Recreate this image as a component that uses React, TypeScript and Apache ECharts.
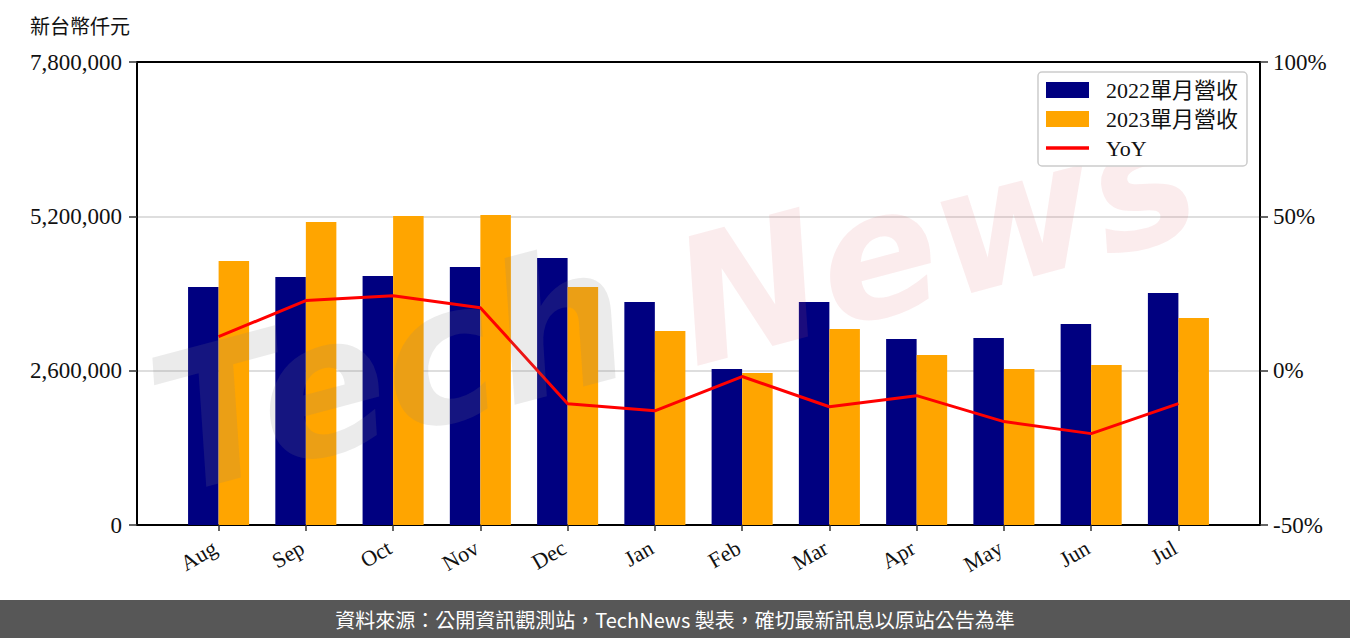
import React, { useEffect, useRef } from "react";
import * as echarts from "echarts";

const months = ["Aug", "Sep", "Oct", "Nov", "Dec", "Jan", "Feb", "Mar", "Apr", "May", "Jun", "Jul"];
const rev2022 = [4009000, 4178000, 4195000, 4346000, 4498000, 3757000, 2628000, 3757000, 3133000, 3150000, 3386000, 3908000];
const rev2023 = [4447000, 5104000, 5206000, 5222000, 4009000, 3268000, 2561000, 3302000, 2864000, 2628000, 2695000, 3487000];
const yoy = [11.0, 22.7, 24.3, 20.4, -10.7, -13.0, -1.9, -11.7, -8.1, -16.5, -20.4, -10.7];
const leftTicks = [0, 2600000, 5200000, 7800000];
const rightTicks = [-50, 0, 50, 100];
const seriesNames = ["2022單月營收", "2023單月營收", "YoY"];
const yTitle = "新台幣仟元";
const footer = "資料來源：公開資訊觀測站，TechNews 製表，確切最新訊息以原站公告為準";

const SERIF = "'Liberation Serif', 'Noto Sans CJK TC', serif";
const BAR_W = 0.35;

export default function App() {
  const ref = useRef<HTMLDivElement>(null);
  useEffect(() => {
    if (!ref.current) return;
    const chart = echarts.init(ref.current, undefined, { renderer: "svg" });
    const n = months.length;
    const span = (n - 1) + 2 * BAR_W;
    const xMin = -BAR_W - 0.05 * span;
    const xMax = n - 1 + BAR_W + 0.05 * span;
    const idx = months.map((_, i) => i);
    const fmt = (v: number) => v.toLocaleString("en-US");
    chart.setOption({
      animation: false,
      backgroundColor: "#fff",
      grid: {
        left: 137, right: 90, top: 62, bottom: 113,
        show: true, borderColor: "#000", borderWidth: 2, backgroundColor: "transparent",
      },
      legend: {
        orient: "vertical",
        right: 103,
        top: 72,
        backgroundColor: "#fff",
        borderColor: "#cccccc",
        borderWidth: 1.5,
        borderRadius: 4,
        padding: [7, 9, 7, 8],
        itemGap: 7,
        itemWidth: 43,
        itemHeight: 16,
        symbolKeepAspect: true,
        textStyle: { fontSize: 22, fontFamily: SERIF, color: "#111", padding: [0, 0, 0, 12], lineHeight: 22 },
        data: [
          { name: seriesNames[0], icon: "rect" },
          { name: seriesNames[1], icon: "rect" },
          { name: seriesNames[2], icon: "path://M0,0L43,0L43,3.5L0,3.5Z" },
        ],
        z: 20,
      },
      xAxis: [
        {
          type: "value",
          min: xMin,
          max: xMax,
          splitLine: { show: false },
          axisLine: { show: true, onZero: false, lineStyle: { color: "#000", width: 2 } },
          axisTick: { show: true, customValues: idx, length: 6, lineStyle: { color: "#333", width: 1.5 } },
          axisLabel: {
            customValues: idx,
            rotate: 30,
            fontSize: 22,
            fontFamily: SERIF,
            color: "#111",
            margin: 19,
            padding: [0, 4, 0, 0],
            formatter: (v: number) => months[Math.round(v)] ?? "",
          },
        },
        {
          type: "value",
          position: "top",
          min: xMin,
          max: xMax,
          splitLine: { show: false },
          axisLine: { show: true, onZero: false, lineStyle: { color: "#000", width: 2 } },
          axisTick: { show: false },
          axisLabel: { show: false },
        },
      ],
      yAxis: [
        {
          type: "value",
          min: leftTicks[0],
          max: leftTicks[leftTicks.length - 1],
          interval: leftTicks[1] - leftTicks[0],
          axisLine: { show: true, onZero: false, lineStyle: { color: "#000", width: 2 } },
          axisTick: { show: true, length: 8, lineStyle: { color: "#333", width: 1.5 } },
          axisLabel: { fontSize: 23, fontFamily: SERIF, color: "#111", margin: 15, formatter: fmt },
          splitLine: { show: true, lineStyle: { color: "#d3d3d3", width: 1.5 } },
        },
        {
          type: "value",
          min: rightTicks[0],
          max: rightTicks[rightTicks.length - 1],
          interval: rightTicks[1] - rightTicks[0],
          position: "right",
          axisLine: { show: true, onZero: false, lineStyle: { color: "#000", width: 2 } },
          axisTick: { show: true, length: 8, lineStyle: { color: "#333", width: 1.5 } },
          axisLabel: { fontSize: 23, fontFamily: SERIF, color: "#111", margin: 13, formatter: (v: number) => `${v}%` },
          splitLine: { show: false },
        },
      ],
      series: [
        {
          name: seriesNames[0],
          type: "bar",
          barWidth: 30.5,
          barGap: "-100%",
          itemStyle: { color: "#000080" },
          data: rev2022.map((v, i) => [i - BAR_W / 2, v]),
          z: 2,
        },
        {
          name: seriesNames[1],
          type: "bar",
          barWidth: 30.5,
          barGap: "-100%",
          itemStyle: { color: "#FFA500" },
          data: rev2023.map((v, i) => [i + BAR_W / 2, v]),
          z: 2,
        },
        {
          name: seriesNames[2],
          type: "line",
          yAxisIndex: 1,
          symbol: "none",
          showSymbol: false,
          lineStyle: { color: "#ff0000", width: 3 },
          itemStyle: { color: "#ff0000" },
          data: yoy.map((v, i) => [i, v]),
          z: 3,
        },
      ],
      graphic: [
        {
          type: "text",
          left: 30,
          top: 15,
          style: { text: yTitle, fontSize: 20, fontFamily: "'Noto Sans CJK TC', sans-serif", fill: "#111" },
        },
        {
          type: "text",
          x: 390,
          y: 370,
          rotation: 0.26,
          z: 10,
          silent: true,
          style: {
            text: "Tech",
            fontSize: 190,
            fontStyle: "italic",
            fontWeight: "bold",
            fontFamily: "'DejaVu Sans', sans-serif",
            fill: "rgba(128,128,128,0.16)",
            align: "center",
            verticalAlign: "middle",
          },
        },
        {
          type: "text",
          x: 935,
          y: 240,
          rotation: 0.26,
          z: 10,
          silent: true,
          style: {
            text: "News",
            fontSize: 175,
            fontStyle: "italic",
            fontWeight: "bold",
            fontFamily: "'DejaVu Sans', sans-serif",
            fill: "rgba(220,100,110,0.12)",
            align: "center",
            verticalAlign: "middle",
          },
        },
        {
          type: "rect",
          left: 0,
          top: 600,
          shape: { width: 1350, height: 38 },
          style: { fill: "#575757" },
        },
        {
          type: "text",
          x: 675,
          y: 619,
          style: {
            text: footer,
            fontSize: 20,
            fontFamily: "'Noto Sans CJK TC', sans-serif",
            fill: "#fff",
            align: "center",
            verticalAlign: "middle",
          },
        },
      ],
    });
    return () => chart.dispose();
  }, []);
  return <div ref={ref} style={{ position: "fixed", left: 0, top: 0, width: 1350, height: 638 }} />;
}
